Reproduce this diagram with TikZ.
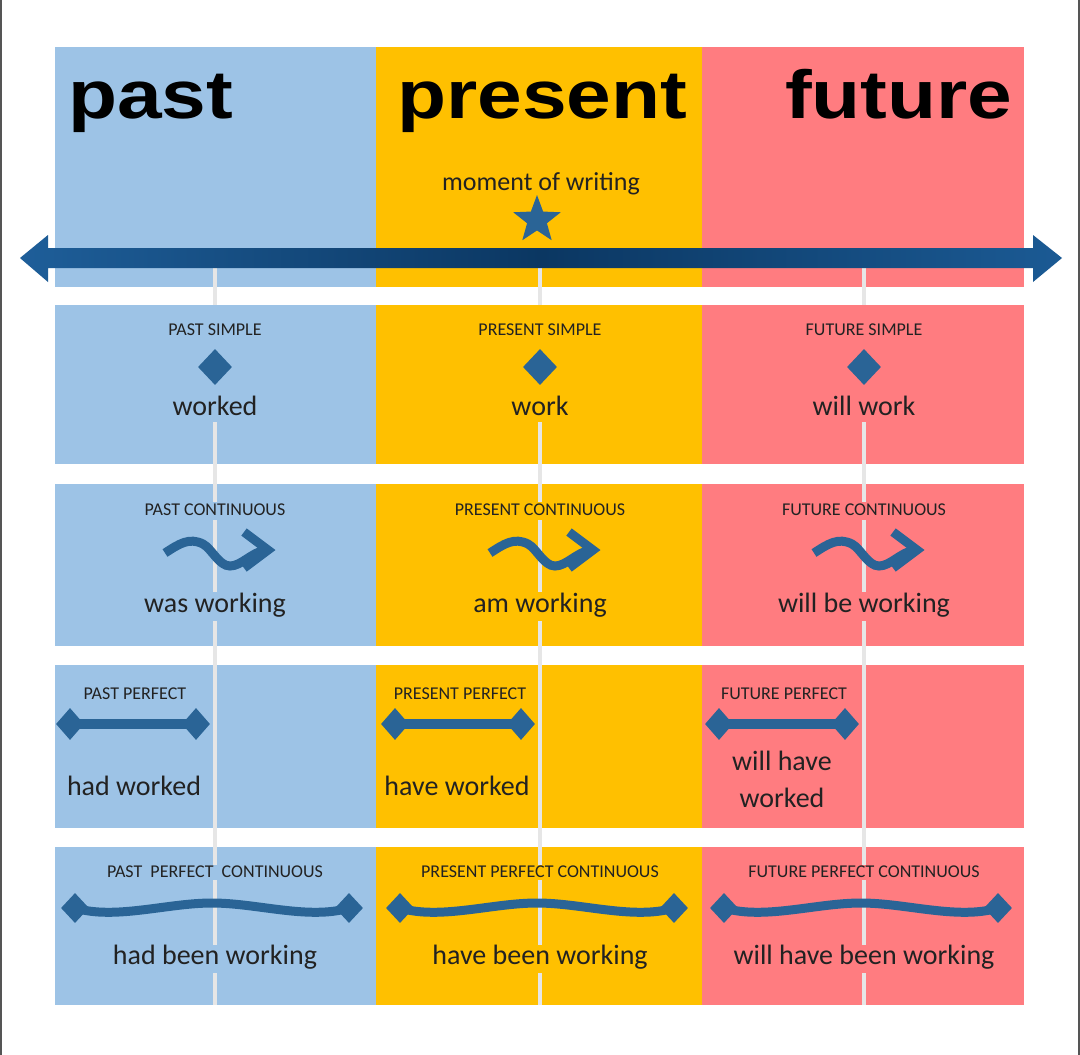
\documentclass[tikz,border=0pt]{standalone}
\usepackage{fontspec}
\setmainfont{Carlito}
\newfontfamily\headfont{Liberation Sans}
\usepackage{graphicx}
\usetikzlibrary{positioning,calc,shapes.geometric}
\definecolor{ink}{HTML}{222222}
\definecolor{pastBlue}{HTML}{9DC3E6}
\definecolor{presAmber}{HTML}{FFC000}
\definecolor{futRed}{HTML}{FF7C80}
\definecolor{tenseBlue}{HTML}{2A6496}
\definecolor{nowLine}{HTML}{E6E6E6}
\definecolor{arrL}{HTML}{1E5E99}
\definecolor{arrM}{HTML}{0B3762}
\definecolor{arrR}{HTML}{1B5A94}
\definecolor{frameGray}{HTML}{555555}
\tikzset{
  lbl/.style={font=\fontsize{18}{21}\selectfont, text=ink, anchor=base, inner sep=0pt},
  verb/.style={font=\fontsize{28}{37}\selectfont, text=ink, anchor=base, inner sep=0pt},
  head/.style={font=\headfont\bfseries\fontsize{68}{80}\selectfont, text=black, anchor=base west, inner sep=0pt},
  dia/.style={diamond, fill=tenseBlue, inner sep=0pt, minimum width=28pt, minimum height=32pt},
  bar/.style={draw=tenseBlue, line width=10pt},
  wave/.style={draw=tenseBlue, line width=9pt},
  nowline/.style={draw=nowLine, line width=4pt},
}

\begin{document}
\begin{tikzpicture}[x=1pt, y=-1pt]
\useasboundingbox (0,0) rectangle (1080,1055);
\fill[white] (0,0) rectangle (1080,1055);
\draw[frameGray, line width=2pt] (1,0) -- (1,1055);
\draw[frameGray, line width=2pt] (1079,0) -- (1079,1055);
% panels
\foreach \xa/\xb/\col in {55/376/pastBlue, 376/702/presAmber, 702/1024/futRed} {
  \fill[\col] (\xa,47) rectangle (\xb,287);
  \foreach \ya/\yb in {305/464, 484/646, 665/828, 847/1005}
    \fill[\col] (\xa,\ya) rectangle (\xb,\yb);
}
% the "now" line of each tense
\foreach \x in {215,540,864}
  \foreach \ya/\yb in {268/305, 422/502, 520/592, 621/865, 880/945, 973/1005}
    \draw[nowline] (\x,\ya) -- (\x,\yb);
% headings
\node[head] (hpast) at (68,118) {\scalebox{1.18}[1]{past}};
\node[head] (hpres) at (397,118) {\scalebox{1.18}[1]{present}};
\node[head] (hfut) at (785,118) {\scalebox{1.18}[1]{future}};
% time line
\shade[left color=arrL, right color=arrR, middle color=arrM] (20,258) -- (48,235) -- (48,248) -- (1033,248) -- (1033,235) -- (1062,258) -- (1033,282) -- (1033,268) -- (48,268) -- (48,282) -- cycle;
\node[verb, font=\fontsize{26}{30}\selectfont] (mow) at (541,190) {moment of writing};
\node[star, star points=5, star point ratio=2.4, fill=tenseBlue, inner sep=0pt, minimum size=50pt] (now) at (537,220) {};
% simple
\foreach \c/\x/\lab/\vb in {past/215/PAST SIMPLE/worked, pres/540/PRESENT SIMPLE/work, fut/864/FUTURE SIMPLE/will work} {
  \node[lbl] (\c-sl) at (\x,335) {\lab};
  \node[dia, minimum width=34pt, minimum height=36pt] (\c-sd) at (\x,367) {};
  \node[verb] (\c-sv) at (\x,415) {\vb};
}
% continuous
\foreach \c/\x/\lab/\vb in {past/215/PAST CONTINUOUS/was working, pres/540/PRESENT CONTINUOUS/am working, fut/864/FUTURE CONTINUOUS/will be working} {
  \node[lbl] (\c-cl) at (\x,515) {\lab};
  \begin{scope}[shift={(\x,550)}]
    \draw[wave] (-50,3) .. controls (-36,-6) and (-26,-13) .. (-12,-6) .. controls (-3,-1) and (4,16) .. (15,16) .. controls (26,16) and (36,3) .. (50,0);
    \draw[wave] (29,-18) -- (53,0) -- (29,18);
  \end{scope}
  \node[verb] (\c-cv) at (\x,612) {\vb};
}
% perfect
\foreach \c/\x/\lab in {past/215/PAST PERFECT, pres/540/PRESENT PERFECT, fut/864/FUTURE PERFECT} {
  \node[lbl] (\c-pl) at (\x-80,699) {\lab};
  \node[dia] (\c-pa) at (\x-145,724) {};
  \node[dia] (\c-pb) at (\x-19,724) {};
  \draw[bar] (\c-pa.center) -- (\c-pb.center);
}
\node[verb] (past-pv) at (134,795) {had worked};
\node[verb] (pres-pv) at (457,795) {have worked};
\node[verb, anchor=center, align=center] (fut-pv) at (782,779) {will have\\worked};
% perfect continuous
\foreach \c/\x/\lab/\vb in {past/215/PAST\ \ PERFECT\ \ CONTINUOUS/had been working, pres/540/PRESENT PERFECT CONTINUOUS/have been working, fut/864/FUTURE PERFECT CONTINUOUS/will have been working} {
  \node[lbl] (\c-ql) at (\x,877) {\lab};
  \node[dia, minimum height=30pt] (\c-qa) at (\x-140,908) {};
  \node[dia, minimum height=30pt] (\c-qb) at (\x+134,908) {};
  \coordinate (\c-qm) at ($(\c-qa)!0.5!(\c-qb)+(0,-5)$);
  \draw[wave] (\c-qa.center) .. controls +(40,12) and +(-45,0) .. (\c-qm) .. controls +(45,0) and +(-40,12) .. (\c-qb.center);
  \node[verb] (\c-qv) at (\x,964) {\vb};
}
\end{tikzpicture}
\end{document}
